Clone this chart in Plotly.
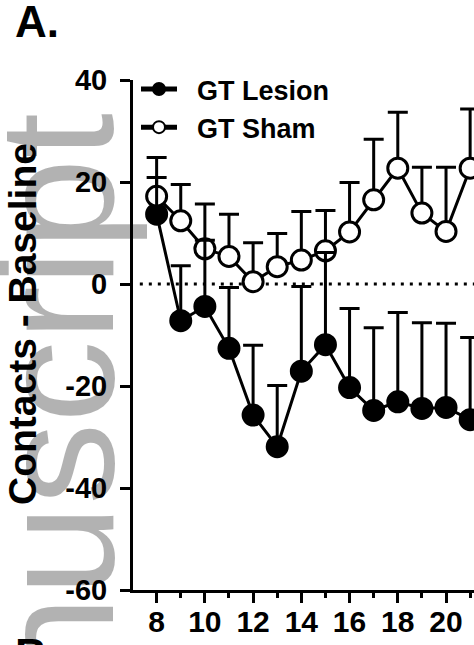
import plotly.graph_objects as go

# ---- data ----
days = [8, 9, 10, 11, 12, 13, 14, 15, 16, 17, 18, 19, 20, 21]
lesion_mean = [13.7, -7.2, -4.4, -12.6, -25.7, -31.9, -17.1, -11.9, -20.3, -24.8, -23.1, -24.4, -24.2, -26.6]
lesion_sem = [7.2, 10.8, 13.0, 11.9, 13.7, 12.0, 16.6, 18.1, 15.5, 16.2, 17.5, 16.8, 16.5, 16.1]
sham_mean = [17.2, 12.4, 6.9, 5.4, 0.45, 3.4, 4.7, 6.5, 10.2, 16.5, 22.7, 13.9, 10.3, 22.7]
sham_sem = [7.6, 7.1, 8.8, 8.3, 7.65, 6.5, 9.5, 7.9, 9.7, 11.9, 11.0, 9.0, 12.6, 11.6]
y_ticks = [-60, -40, -20, 0, 20, 40]
y_labels = ["-60", "-40", "-20", "0", "20", "40"]
x_ticks = [8, 10, 12, 14, 16, 18, 20]
x_labels = ["8", "10", "12", "14", "16", "18", "20"]
series_names = ["GT Lesion", "GT Sham"]

FONT = "Liberation Sans, Arial, sans-serif"
W, H = 474, 645
ML, MR, MT, MB = 133, 0, 80, 55
GAP = "\u00a0\u00a0"  # extra room between legend symbol and its label

fig = go.Figure()

# GT Lesion line + filled markers
fig.add_trace(go.Scatter(
    x=days, y=lesion_mean, name=GAP + series_names[0], mode="lines+markers",
    line=dict(color="black", width=3),
    marker=dict(symbol="circle", size=20, color="black", line=dict(color="black", width=3)),
))
# GT Sham line + open markers (error bars beneath its markers)
fig.add_trace(go.Scatter(
    x=days, y=sham_mean, name=GAP + series_names[1], mode="lines+markers",
    line=dict(color="black", width=3),
    marker=dict(symbol="circle", size=20, color="white", line=dict(color="black", width=3)),
    error_y=dict(type="data", symmetric=False, array=sham_sem, arrayminus=[0] * len(days),
                 color="black", thickness=3, width=10),
))
# GT Lesion error bars, drawn on top
fig.add_trace(go.Scatter(
    x=days, y=lesion_mean, mode="markers", showlegend=False, hoverinfo="skip",
    marker=dict(size=1, color="rgba(0,0,0,0)"),
    error_y=dict(type="data", symmetric=False, array=lesion_sem, arrayminus=[0] * len(days),
                 color="black", thickness=3, width=10),
))

# dotted baseline at 0
fig.add_shape(type="line", xref="paper", yref="y", x0=0.02, x1=1, y0=0, y1=0,
              line=dict(color="black", width=3, dash="3px,6px"), layer="below")

def px_to_paper_x(px):
    return (px - ML) / (W - ML - MR)

def px_to_paper_y(py):
    return (H - MB - py) / (H - MT - MB)

# watermark
fig.add_annotation(text="Manuscript", textangle=-90, showarrow=False,
                   xref="paper", yref="paper", x=px_to_paper_x(56), y=px_to_paper_y(514),
                   xanchor="center", yanchor="middle",
                   font=dict(family=FONT, size=164, color="rgba(0,0,0,0.3)"))
# y-axis title
fig.add_annotation(text="<b>Contacts - Baseline</b>", textangle=-90, showarrow=False,
                   xref="paper", yref="paper", x=px_to_paper_x(22), y=px_to_paper_y(324),
                   xanchor="center", yanchor="middle",
                   font=dict(family=FONT, size=39, color="black"))
# panel labels
fig.add_annotation(text="<b>A.</b>", showarrow=False, xref="paper", yref="paper",
                   x=px_to_paper_x(13), y=px_to_paper_y(-5), xanchor="left", yanchor="top",
                   font=dict(family=FONT, size=44, color="black"))
fig.add_annotation(text="<b>B.</b>", showarrow=False, xref="paper", yref="paper",
                   x=px_to_paper_x(13), y=px_to_paper_y(628), xanchor="left", yanchor="top",
                   font=dict(family=FONT, size=44, color="black"))

fig.update_layout(
    width=W, height=H,
    margin=dict(l=ML, r=MR, t=MT, b=MB, pad=0),
    paper_bgcolor="white", plot_bgcolor="white",
    font=dict(family=FONT, color="black"),
    showlegend=True,
    legend=dict(x=px_to_paper_x(136), y=px_to_paper_y(65), xanchor="left", yanchor="top",
                bgcolor="rgba(0,0,0,0)", borderwidth=0, itemsizing="constant", itemwidth=36,
                font=dict(family=FONT, size=27, color="black", weight="bold"),
                tracegroupgap=0),
    xaxis=dict(range=[7.02, 21.16], tickmode="array", tickvals=x_ticks,
               ticktext=["<b>%s</b>" % t for t in x_labels],
               showgrid=False, zeroline=False, showline=True, linecolor="black", linewidth=3,
               ticks="outside", ticklen=10, tickwidth=3, tickcolor="black",
               ticklabelstandoff=-7,
               tickfont=dict(family=FONT, size=30, color="black"),
               minor=dict(dtick=1, tick0=7, ticks="outside", ticklen=5, tickwidth=3, tickcolor="black"),
               fixedrange=True),
    yaxis=dict(range=[-60, 40], tickmode="array", tickvals=y_ticks,
               ticktext=["<b>%s</b>" % t for t in y_labels],
               showgrid=False, zeroline=False, showline=True, linecolor="black", linewidth=3,
               ticks="outside", ticklen=10, tickwidth=3, tickcolor="black",
               ticklabelstandoff=7,
               tickfont=dict(family=FONT, size=29, color="black"),
               fixedrange=True),
)

fig.write_html("out.html", config={"displayModeBar": False},
               post_script="document.body.style.margin='0';document.body.style.overflow='hidden';")
